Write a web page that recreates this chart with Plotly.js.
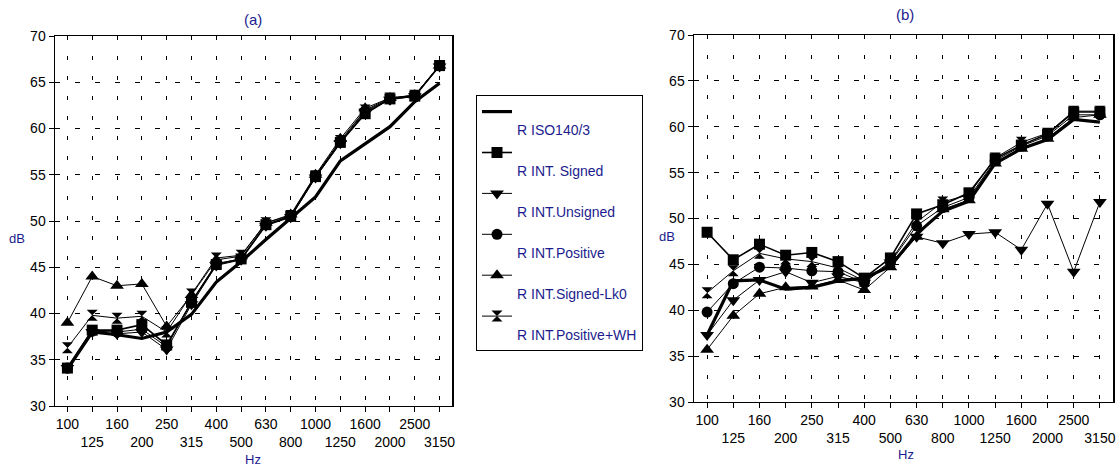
<!DOCTYPE html>
<html>
<head>
<meta charset="utf-8">
<script src="https://cdn.plot.ly/plotly-3.0.1.min.js"></script>
<style>html,body{margin:0;padding:0;background:#fff;}#chart{width:1120px;height:468px;}</style>
</head>
<body>
<div id="chart"></div>
<script>
// ---- data ----
const freqs = ['100','125','160','200','250','315','400','500','630','800','1000','1250','1600','2000','2500','3150'];
const seriesNames = ['R ISO140/3','R INT. Signed','R INT.Unsigned','R INT.Positive','R INT.Signed-Lk0','R INT.Positive+WH'];

// panel (a)
const a_iso      = [34.0, 38.0, 37.7, 37.3, 38.0, 39.9, 43.4, 45.6, 48.0, 50.3, 52.6, 56.5, 58.4, 60.2, 62.9, 64.9];
const a_signed   = [34.1, 38.2, 38.2, 38.8, 36.6, 41.2, 45.3, 45.9, 49.6, 50.5, 54.8, 58.5, 61.6, 63.2, 63.5, 66.8];
const a_unsigned = [34.1, 38.0, 37.8, 38.0, 36.1, 41.0, 45.2, 45.8, 49.5, 50.4, 54.7, 58.4, 61.8, 63.1, 63.5, 66.7];
const a_positive = [34.1, 38.1, 38.0, 38.3, 36.4, 41.3, 45.4, 45.9, 49.6, 50.5, 54.8, 58.6, 61.9, 63.2, 63.6, 66.8];
const a_lk0      = [39.0, 44.0, 43.0, 43.2, 38.6, 42.0, 45.8, 46.2, 49.8, 50.7, 55.0, 58.9, 62.2, 63.3, 63.6, 66.8];
const a_poswh    = [36.3, 39.8, 39.5, 39.7, 38.0, 42.1, 46.0, 46.3, 49.8, 50.6, 54.9, 58.7, 62.0, 63.3, 63.6, 66.8];

// panel (b)
const b_iso      = [37.3, 43.2, 43.3, 42.3, 42.5, 43.2, 43.5, 44.8, 48.3, 50.8, 51.9, 56.0, 57.6, 58.6, 60.8, 60.5];
const b_signed   = [48.5, 45.5, 47.2, 46.0, 46.3, 45.3, 43.5, 45.7, 50.5, 51.5, 52.8, 56.5, 58.0, 59.2, 61.6, 61.6];
const b_unsigned = [37.3, 41.1, 43.3, 44.2, 43.0, 43.7, 43.0, 45.2, 48.0, 47.3, 48.3, 48.5, 46.6, 51.6, 44.2, 51.8];
const b_positive = [39.8, 42.9, 44.7, 44.6, 44.3, 44.2, 43.0, 45.2, 49.2, 51.2, 52.3, 56.3, 57.9, 59.0, 61.3, 61.3];
const b_lk0      = [35.7, 39.4, 41.8, 42.5, 42.6, 43.3, 42.2, 44.7, 48.0, 51.0, 52.0, 56.0, 57.6, 58.7, 61.0, 61.3];
const b_poswh    = [41.9, 44.3, 46.2, 45.6, 45.3, 44.6, 43.2, 45.3, 49.6, 51.8, 52.6, 56.6, 58.3, 59.3, 61.7, 61.7];

// ---- styling ----
const navy = '#1c1c8e';
const FONT = 'Liberation Sans, Arial, sans-serif';
const styles = [
  {mode:'lines', line:{color:'#000', width:3.2}},
  {mode:'lines+markers', line:{color:'#000', width:1.6}, marker:{symbol:'square', size:11, color:'#000'}},
  {mode:'lines+markers', line:{color:'#000', width:1}, marker:{symbol:'triangle-down', size:12, color:'#000'}},
  {mode:'lines+markers', line:{color:'#000', width:1}, marker:{symbol:'circle', size:11, color:'#000'}},
  {mode:'lines+markers', line:{color:'#000', width:1}, marker:{symbol:'triangle-up', size:12, color:'#000'}},
  {mode:'lines+markers', line:{color:'#000', width:1}, marker:{symbol:'hourglass', size:11, color:'#000'}}
];
const aSeries = [a_iso, a_signed, a_unsigned, a_positive, a_lk0, a_poswh];
const bSeries = [b_iso, b_signed, b_unsigned, b_positive, b_lk0, b_poswh];

const traces = [];
aSeries.forEach((ys, i) => {
  traces.push(Object.assign({type:'scatter', x:freqs, y:ys, xaxis:'x', yaxis:'y',
    name:'&nbsp;<br>' + seriesNames[i], legendgroup:'g'+i, showlegend:true,
    cliponaxis:false}, JSON.parse(JSON.stringify(styles[i]))));
});
bSeries.forEach((ys, i) => {
  traces.push(Object.assign({type:'scatter', x:freqs, y:ys, xaxis:'x2', yaxis:'y2',
    name:seriesNames[i], legendgroup:'g'+i, showlegend:false,
    cliponaxis:false}, JSON.parse(JSON.stringify(styles[i]))));
});

const tickText = freqs.map((f, i) => (i % 2 ? '<br>' + f : f));

function xAxis(domain, anchor) {
  return {
    domain: domain, anchor: anchor, type:'category', range:[-0.5, 15.5],
    tickmode:'array', tickvals:freqs, ticktext:tickText, tickangle:0,
    ticks:'outside', ticklen:5, tickcolor:'#000', tickwidth:1,
    tickfont:{family:FONT, size:14, color:'#000'},
    showline:true, linecolor:'#000', linewidth:1, mirror:true,
    showgrid:true, gridcolor:'#000', gridwidth:1, griddash:'4px,16px',
    zeroline:false, fixedrange:true
  };
}
function yAxis(domain, anchor) {
  return {
    domain: domain, anchor: anchor, range:[30, 70], dtick:5, tick0:30,
    ticks:'outside', ticklen:5, tickcolor:'#000', tickwidth:1,
    tickfont:{family:FONT, size:14, color:'#000'},
    showline:true, linecolor:'#000', linewidth:1.5, mirror:true,
    showgrid:true, gridcolor:'#000', gridwidth:1, griddash:'5px,15px',
    zeroline:false, fixedrange:true
  };
}

const W = 1120, H = 468;
const layout = {
  width:W, height:H,
  margin:{l:0, r:0, t:0, b:0},
  paper_bgcolor:'#fff', plot_bgcolor:'#fff',
  font:{family:FONT, color:'#000'},
  xaxis: xAxis([55/W, 452/W], 'y'),
  yaxis: yAxis([1-406/H, 1-36/H], 'x'),
  xaxis2: xAxis([694/W, 1113/W], 'y2'),
  yaxis2: yAxis([1-402/H, 1-35/H], 'x2'),
  showlegend:true,
  legend:{
    x:476/W, y:1-95/H, xanchor:'left', yanchor:'top',
    bgcolor:'#fff', bordercolor:'#000', borderwidth:1,
    font:{family:FONT, size:14, color:navy},
    valign:'top', traceorder:'grouped', tracegroupgap:1.5,
    itemwidth:30, itemclick:false, itemdoubleclick:false
  },
  annotations:[
    {text:'(a)', xref:'paper', yref:'paper', x:253/W, y:1-20/H, showarrow:false,
     font:{family:FONT, size:15, color:navy}, xanchor:'center', yanchor:'middle'},
    {text:'(b)', xref:'paper', yref:'paper', x:905/W, y:1-15/H, showarrow:false,
     font:{family:FONT, size:15, color:navy}, xanchor:'center', yanchor:'middle'},
    {text:'dB', xref:'paper', yref:'paper', x:17/W, y:1-239/H, showarrow:false,
     font:{family:FONT, size:13, color:navy}, xanchor:'center', yanchor:'middle'},
    {text:'dB', xref:'paper', yref:'paper', x:667/W, y:1-236/H, showarrow:false,
     font:{family:FONT, size:13, color:navy}, xanchor:'center', yanchor:'middle'},
    {text:'Hz', xref:'paper', yref:'paper', x:253/W, y:1-459/H, showarrow:false,
     font:{family:FONT, size:13, color:navy}, xanchor:'center', yanchor:'middle'},
    {text:'Hz', xref:'paper', yref:'paper', x:906/W, y:1-454/H, showarrow:false,
     font:{family:FONT, size:13, color:navy}, xanchor:'center', yanchor:'middle'}
  ]
};

Plotly.newPlot('chart', traces, layout, {displayModeBar:false, staticPlot:true});
</script>
</body>
</html>
